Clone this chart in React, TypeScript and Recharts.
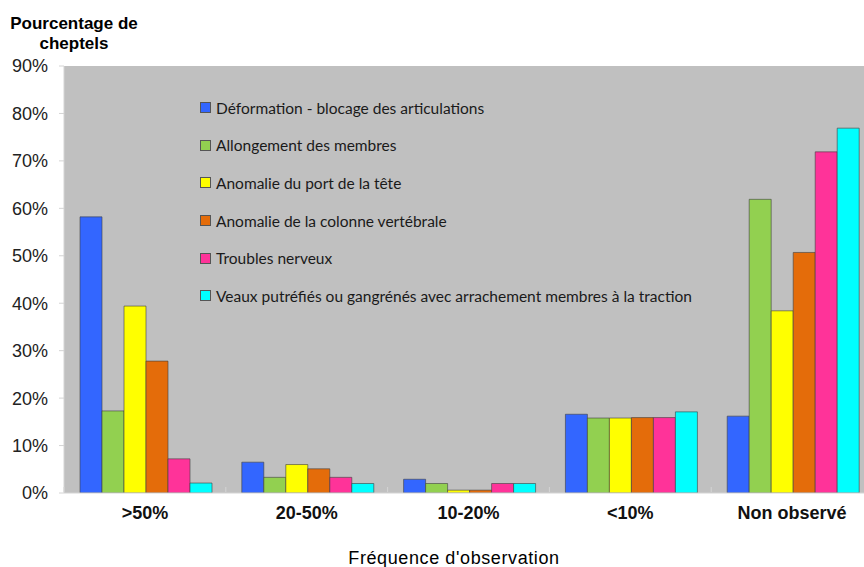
import { BarChart, Bar, XAxis, YAxis, CartesianGrid, Legend } from "recharts";

const categories = [">50%", "20-50%", "10-20%", "<10%", "Non observé"];

const deformation = [58.2, 6.5, 2.9, 16.6, 16.2];
const allongement = [17.3, 3.3, 2.0, 15.8, 61.9];
const portTete = [39.4, 6.0, 0.6, 15.8, 38.4];
const colonne = [27.8, 5.1, 0.6, 15.9, 50.7];
const nerveux = [7.2, 3.3, 2.0, 15.9, 71.9];
const putrefies = [2.1, 2.0, 2.0, 17.1, 76.9];

const yTicks = [0, 10, 20, 30, 40, 50, 60, 70, 80, 90];

const series = [
  { key: "deformation", name: "Déformation - blocage des articulations", color: "#3366ff", values: deformation },
  { key: "allongement", name: "Allongement des membres", color: "#92d050", values: allongement },
  { key: "portTete", name: "Anomalie du port de la tête", color: "#ffff00", values: portTete },
  { key: "colonne", name: "Anomalie de la colonne vertébrale", color: "#e46c0a", values: colonne },
  { key: "nerveux", name: "Troubles nerveux", color: "#ff3399", values: nerveux },
  { key: "putrefies", name: "Veaux putréfiés ou gangrénés avec arrachement membres à la traction", color: "#00ffff", values: putrefies },
];

const data = categories.map((c, i) => {
  const row: Record<string, string | number> = { cat: c };
  series.forEach((s) => (row[s.key] = s.values[i]));
  return row;
});

const W = 880;
const H = 567;
const xAxisHeight = 30;
const margin = { top: 66, right: 7, bottom: 74 - xAxisHeight, left: 8 };
const band = (W - margin.left - margin.right - 56) / categories.length;

const axisColor = "#d4d4d4";

function CatTick(props: any) {
  const { x, y, payload } = props;
  return (
    <g>
      <line x1={x - band / 2} x2={x - band / 2} y1={y - 14} y2={y - 9} stroke={axisColor} />
      <text x={x} y={y + 18} textAnchor="middle" fontFamily="'Liberation Sans', Arial, sans-serif" fontWeight="bold" fontSize={18} fill="#111">
        {payload.value}
      </text>
    </g>
  );
}

function LegendBox() {
  return (
    <div style={{ fontFamily: "Lato, sans-serif", fontSize: 15.5, color: "#1a1a1a", whiteSpace: "nowrap" }}>
      {series.map((s) => (
        <div key={s.key} style={{ height: 37.6, display: "flex", alignItems: "center" }}>
          <span style={{ display: "inline-block", width: 9, height: 9, background: s.color, border: "1px solid #555", marginRight: 5 }} />
          {s.name}
        </div>
      ))}
    </div>
  );
}

export default function App() {
  return (
    <div style={{ position: "absolute", left: 0, top: 0, width: 864, height: 567, overflow: "hidden", background: "#fff" }}>
      <div style={{ position: "absolute", left: 0, top: 14, width: 148, textAlign: "center", fontFamily: "'Liberation Sans', Arial, sans-serif", fontWeight: "bold", fontSize: 17, lineHeight: "20px" }}>
        Pourcentage de
        <br />
        cheptels
      </div>
      <BarChart width={W} height={H} data={data} margin={margin} barCategoryGap={16} barGap={0}>
        <CartesianGrid fill="#c0c0c0" horizontal={false} vertical={false} />
        <XAxis dataKey="cat" height={xAxisHeight} tick={<CatTick />} tickLine={false} stroke={axisColor} interval={0} />
        <YAxis
          domain={[0, 90]}
          ticks={yTicks}
          interval={0}
          width={56}
          tickFormatter={(v) => `${v}%`}
          tickSize={5}
          tickMargin={11}
          stroke={axisColor}
          tick={{ fontFamily: "'Liberation Sans', Arial, sans-serif", fontSize: 18, fill: "#222" }}
          allowDataOverflow
        />
        <Legend
          layout="vertical"
          align="center"
          verticalAlign="middle"
          content={() => <LegendBox />}
          wrapperStyle={{ position: "absolute", left: 200, top: 89, width: "auto" }}
        />
        {series.map((s) => (
          <Bar key={s.key} dataKey={s.key} name={s.name} fill={s.color} stroke="#404040" strokeOpacity={0.6} isAnimationActive={false} />
        ))}
      </BarChart>
      <div style={{ position: "absolute", left: 0, width: 864, top: 548, textAlign: "center", fontFamily: "'Liberation Sans', Arial, sans-serif", fontSize: 18, letterSpacing: 0.6, paddingLeft: 44, boxSizing: "border-box" }}>
        Fréquence d'observation
      </div>
    </div>
  );
}
